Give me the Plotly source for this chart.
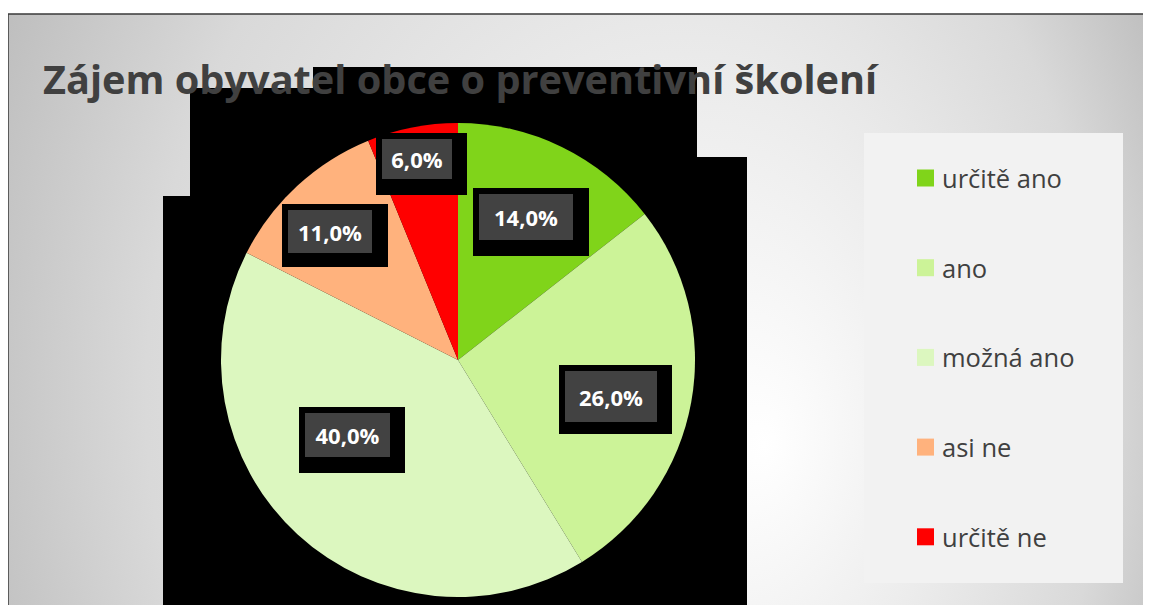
import base64
import plotly.graph_objects as go

# ---------------- data ----------------
categories = ["určitě ano", "ano", "možná ano", "asi ne", "určitě ne"]
values = [14.0, 26.0, 40.0, 11.0, 6.0]
colors = ["#80d41a", "#ccf398", "#dcf7bf", "#ffb27d", "#ff0000"]
title_text = "Zájem obyvatel obce o preventivní školení"

# ---------------- layout helpers (page pixel -> paper) ----------------
W, H = 1151, 605
OFF = 8  # page body margin offset


def px(x):
    return (x - OFF) / W


def py(y):
    return 1 - (y - OFF) / H


PIE_CX, PIE_CY, PIE_R = 458, 360, 237
FRAME = (8, 14, 1149, 620)

# label box positions (inner box left/top/right/bottom, outer black box right/bottom)
label_boxes = [
    (479, 194, 573, 240, 589, 256),
    (565, 371, 657, 422, 672, 434),
    (305, 413, 390, 457, 405, 473),
    (288, 210, 372, 253, 388, 267),
    (382, 139, 452, 179, 467, 195),
]

# black background artefact rectangles behind the plot area
black_rects = [
    (313, 67, 697, 200),
    (190, 88, 697, 200),
    (697, 157, 747, 620),
    (163, 196, 747, 620),
]

fig = go.Figure()
fig.add_trace(go.Pie(
    values=values,
    labels=categories,
    marker=dict(colors=colors, line=dict(width=0)),
    sort=False,
    direction="clockwise",
    rotation=0,
    textinfo="none",
    hoverinfo="label+percent",
    showlegend=False,
    domain=dict(x=[px(PIE_CX - PIE_R), px(PIE_CX + PIE_R)],
                y=[py(PIE_CY + PIE_R), py(PIE_CY - PIE_R)]),
))

# ---------------- background gradient ----------------
fx0, fy0, fx1, fy1 = FRAME
fw, fh = fx1 - fx0, fy1 - fy0
cx, cy = 580 - fx0, 380 - fy0
svg = f'''<svg xmlns="http://www.w3.org/2000/svg" width="{fw}" height="{fh}" viewBox="0 0 {fw} {fh}" preserveAspectRatio="none">
<defs><radialGradient id="g" gradientUnits="userSpaceOnUse" cx="{cx}" cy="{cy}" r="640" fx="{765 - fx0}" fy="{430 - fy0}"
gradientTransform="translate({cx},{cy}) scale(1,1.3) translate({-cx},{-cy})">
<stop offset="0" stop-color="#ffffff"/>
<stop offset="0.4" stop-color="#ececec"/>
<stop offset="0.75" stop-color="#d9d9d9"/>
<stop offset="1" stop-color="#bebebe"/>
</radialGradient></defs>
<rect x="0" y="0" width="{fw}" height="{fh}" fill="url(#g)"/></svg>'''
src = "data:image/svg+xml;base64," + base64.b64encode(svg.encode("utf-8")).decode("ascii")

images = [dict(source=src, xref="paper", yref="paper", x=px(fx0), y=py(fy0),
               sizex=fw / W, sizey=fh / H, sizing="stretch", xanchor="left",
               yanchor="top", layer="below", opacity=1)]

shapes = []
for (x0, y0, x1, y1) in black_rects:
    shapes.append(dict(type="rect", xref="paper", yref="paper", x0=px(x0), x1=px(x1),
                       y0=py(y1), y1=py(y0), fillcolor="#000000", line=dict(width=0),
                       layer="below"))

# frame border
shapes.append(dict(type="rect", xref="paper", yref="paper", x0=px(fx0), x1=px(fx1),
                   y0=py(fy1), y1=py(fy0), fillcolor="rgba(0,0,0,0)",
                   line=dict(color="#3a3a3a", width=1.5), layer="above"))

# legend panel
LEG = (864, 133, 1123, 583)
shapes.append(dict(type="rect", xref="paper", yref="paper", x0=px(LEG[0]), x1=px(LEG[2]),
                   y0=py(LEG[3]), y1=py(LEG[1]), fillcolor="#f2f2f2", line=dict(width=0),
                   layer="below"))

annotations = []
# legend items
LEG_Y0, LEG_DY = 178, 89.7
for i, (cat, col) in enumerate(zip(categories, colors)):
    yc = LEG_Y0 + i * LEG_DY
    shapes.append(dict(type="rect", xref="paper", yref="paper", x0=px(917), x1=px(934),
                       y0=py(yc + 8.5), y1=py(yc - 8.5), fillcolor=col, line=dict(width=0),
                       layer="above"))
    annotations.append(dict(text=cat, xref="paper", yref="paper", x=px(940), y=py(yc),
                            xanchor="left", yanchor="middle", showarrow=False,
                            font=dict(family="Open Sans", size=25.5, color="#404040")))

# data labels
for v, (ix0, iy0, ix1, iy1, ox1, oy1) in zip(values, label_boxes):
    shapes.append(dict(type="rect", xref="paper", yref="paper", x0=px(ix0 - 6), x1=px(ox1),
                       y0=py(oy1), y1=py(iy0 - 6), fillcolor="#000000", line=dict(width=0),
                       layer="above"))
    txt = f"{v:.1f}".replace(".", ",") + "%"
    annotations.append(dict(text=f"<b>{txt}</b>", xref="paper", yref="paper",
                            x=px((ix0 + ix1) / 2), y=py((iy0 + iy1) / 2),
                            xanchor="center", yanchor="middle", showarrow=False,
                            width=ix1 - ix0, height=iy1 - iy0, bgcolor="#424242",
                            borderpad=0, borderwidth=0,
                            font=dict(family="Open Sans", size=22, color="#ffffff")))

# title
annotations.append(dict(text=f"<b>{title_text}</b>", xref="paper", yref="paper",
                        x=px(41), y=py(79), xanchor="left", yanchor="middle",
                        showarrow=False,
                        font=dict(family="Open Sans", size=39.7, color="#404040")))

fig.update_layout(
    width=W, height=H, autosize=False,
    margin=dict(l=0, r=0, t=0, b=0, pad=0),
    paper_bgcolor="#ffffff", plot_bgcolor="#ffffff",
    shapes=shapes, annotations=annotations, images=images,
    showlegend=False,
)

fig.write_html("out.html")
